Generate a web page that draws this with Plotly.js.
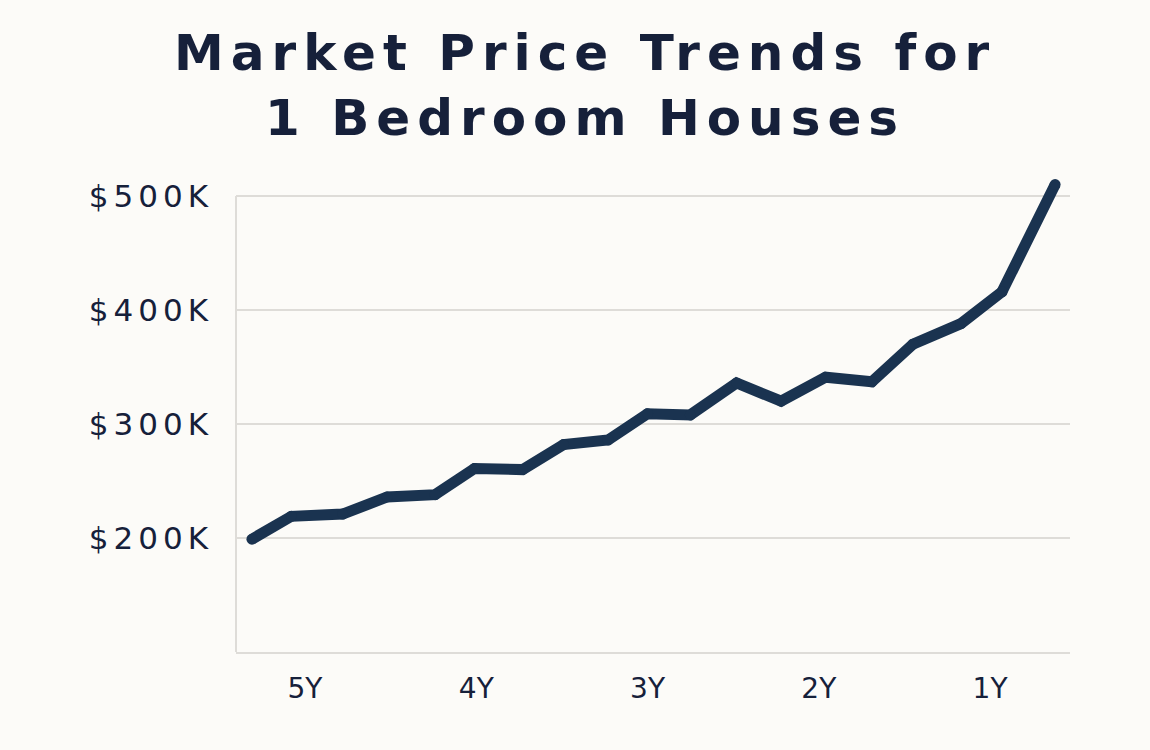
<!DOCTYPE html>
<html>
<head>
<meta charset="utf-8">
<script src="https://cdn.plot.ly/plotly-3.0.1.min.js"></script>
<style>
  html, body { margin: 0; padding: 0; background: #fcfbf8; }
  #grafico { width: 1150px; height: 750px; }
  /* letras mais espaçadas, como no original */
  .ytick text { letter-spacing: 5px; }
  .annotation-text { letter-spacing: 7px; }
</style>
</head>
<body>
<div id="grafico"></div>
<script>
// anos antes de hoje (eixo x) e preço em dólares
const anosAtras = [5.31, 5.08, 4.78, 4.52, 4.24, 4.01, 3.73, 3.49, 3.23, 3.00,
                   2.75, 2.48, 2.22, 1.96, 1.69, 1.45, 1.17, 0.93, 0.62];
const precos = [199000, 219000, 221000, 236000, 238000, 261000, 260000, 282000, 286000, 309000,
                308000, 336000, 320000, 341000, 337000, 370000, 388000, 416000, 510000];

const ticksX = [5, 4, 3, 2, 1];
const rotulosX = ['5Y', '4Y', '3Y', '2Y', '1Y'];
const ticksY = [200000, 300000, 400000, 500000];
const rotulosY = ['$200K', '$300K', '$400K', '$500K'];

const tituloLinhas = ['Market Price Trends for', '1 Bedroom Houses'];

const corLinha = '#1a3350';
const corTexto = '#16203a';
const corGrade = '#dedcd8';

const trace = [{
    x: anosAtras,
    y: precos,
    type: 'scatter',
    mode: 'lines+markers',
    line: { color: corLinha, width: 11 },
    marker: { color: corLinha, size: 11 },
    hoverinfo: 'skip'
}];

Plotly.newPlot('grafico', trace, {
    width: 1150,
    height: 750,
    margin: { t: 170, b: 98, l: 236, r: 80 },
    paper_bgcolor: '#fcfbf8',
    plot_bgcolor: '#fcfbf8',
    showlegend: false,
    hovermode: false,
    xaxis: {
        range: [5.403, 0.533],
        tickvals: ticksX,
        ticktext: rotulosX,
        showgrid: false,
        zeroline: false,
        showline: true,
        linecolor: corGrade,
        linewidth: 2,
        ticks: '',
        ticklabelstandoff: 10,
        tickfont: { family: 'DejaVu Sans', size: 28, color: corTexto }
    },
    yaxis: {
        range: [100000, 522800],
        tickvals: ticksY,
        ticktext: rotulosY,
        showgrid: true,
        gridcolor: corGrade,
        gridwidth: 2,
        zeroline: false,
        showline: false,
        ticks: '',
        ticklabelstandoff: 22,
        tickfont: { family: 'DejaVu Sans', size: 31, color: corTexto }
    },
    shapes: [{
        type: 'line', xref: 'paper', yref: 'y',
        x0: 0, x1: 0, y0: 100000, y1: 500000,
        line: { color: corGrade, width: 2 }
    }],
    // título em duas linhas num único texto
    annotations: [{
        text: tituloLinhas.join('<br>'),
        xref: 'paper', yref: 'paper', x: 0.4185, y: 1.1753,
        xanchor: 'center', yanchor: 'middle', showarrow: false,
        font: { family: 'DejaVu Sans', size: 50, weight: 'bold', color: corTexto }
    }]
}, { displayModeBar: false, staticPlot: true });
</script>
</body>
</html>
